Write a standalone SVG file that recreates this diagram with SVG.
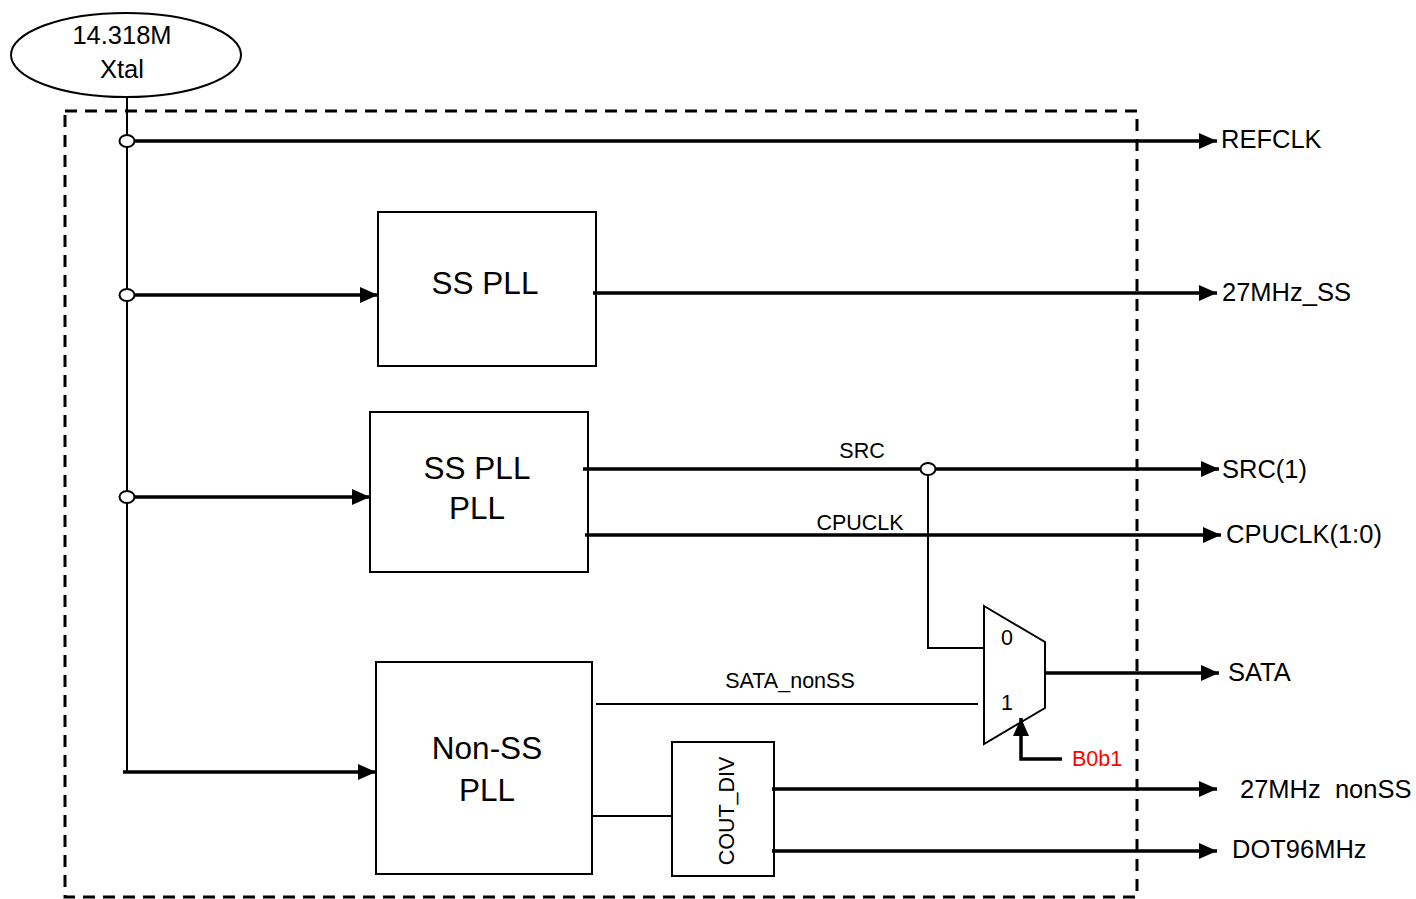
<svg xmlns="http://www.w3.org/2000/svg" width="1416" height="899" viewBox="0 0 1416 899">
<style>
text{font-family:"Liberation Sans",Arial,sans-serif;fill:#000}
.big{font-size:31.5px;text-anchor:middle}
.out{font-size:25.5px}
.sm{font-size:21.5px;text-anchor:middle}
.box{fill:#fff;stroke:#000;stroke-width:2}
.thick{stroke:#000;stroke-width:3.5;fill:none}
.thin{stroke:#000;stroke-width:2;fill:none}
.hop{fill:#fff;stroke:#000;stroke-width:2}
</style>
<defs>
<marker id="ah" markerUnits="userSpaceOnUse" markerWidth="18" markerHeight="16" refX="18" refY="8" orient="auto">
<path d="M0,0 L18,8 L0,16 Z" fill="#000"/>
</marker>
</defs>
<rect id="boundary" x="65" y="111" width="1072" height="786" fill="none" stroke="#000" stroke-width="3" stroke-dasharray="12,8"/>
<g id="xtal">
<ellipse cx="126" cy="55" rx="115" ry="42" class="box"/>
<text x="122" y="44" font-size="25.5" text-anchor="middle">14.318M</text>
<text x="122" y="78" font-size="25.5" text-anchor="middle">Xtal</text>
</g>
<g id="sspll1">
<rect x="378" y="212" width="218" height="154" class="box"/>
<text x="485" y="294" class="big">SS PLL</text>
</g>
<g id="sspll2">
<rect x="370" y="412" width="218" height="160" class="box"/>
<text x="477" y="479" class="big">SS PLL</text>
<text x="477" y="519" class="big">PLL</text>
</g>
<g id="nonsspll">
<rect x="376" y="662" width="216" height="212" class="box"/>
<text x="487" y="759" class="big">Non-SS</text>
<text x="487" y="801" class="big">PLL</text>
</g>
<g id="coutdiv">
<rect x="672" y="742" width="102" height="134" class="box"/>
<text transform="translate(734,811) rotate(-90)" class="sm">COUT_DIV</text>
</g>
<g id="mux">
<path d="M984,606 L1045,642 L1045,708 L984,744 Z" class="box"/>
<text x="1007" y="645" class="sm">0</text>
<text x="1007" y="710" class="sm">1</text>
</g>
<g id="connectors">
<line x1="127" y1="97" x2="127" y2="772" class="thin"/>
<line x1="133" y1="141" x2="1217" y2="141" class="thick" marker-end="url(#ah)"/>
<line x1="133" y1="295" x2="378" y2="295" class="thick" marker-end="url(#ah)"/>
<line x1="133" y1="497" x2="370" y2="497" class="thick" marker-end="url(#ah)"/>
<line x1="123" y1="772" x2="376" y2="772" class="thick" marker-end="url(#ah)"/>
<line x1="593" y1="293" x2="1217" y2="293" class="thick" marker-end="url(#ah)"/>
<line x1="583" y1="469" x2="1219" y2="469" class="thick" marker-end="url(#ah)"/>
<line x1="585" y1="535" x2="1221" y2="535" class="thick" marker-end="url(#ah)"/>
<polyline points="928,474 928,648 984,648" class="thin"/>
<line x1="596" y1="704" x2="978" y2="704" class="thin"/>
<line x1="1045" y1="673" x2="1219" y2="673" class="thick" marker-end="url(#ah)"/>
<polyline points="1062,759 1021,759 1021,718" class="thick" marker-end="url(#ah)"/>
<line x1="592" y1="816" x2="672" y2="816" class="thin"/>
<line x1="772" y1="789" x2="1217" y2="789" class="thick" marker-end="url(#ah)"/>
<line x1="772" y1="851" x2="1217" y2="851" class="thick" marker-end="url(#ah)"/>
<ellipse cx="127" cy="141" rx="7.5" ry="6" class="hop"/>
<ellipse cx="127" cy="295" rx="7.5" ry="6" class="hop"/>
<ellipse cx="127" cy="497" rx="7.5" ry="6" class="hop"/>
<ellipse cx="928" cy="469" rx="7.5" ry="6" class="hop"/>
</g>
<g id="labels">
<text x="862" y="458" class="sm">SRC</text>
<text x="860" y="530" class="sm">CPUCLK</text>
<text x="790" y="688" class="sm">SATA_nonSS</text>
<text x="1072" y="766" font-size="21.5" style="fill:#ff0000">B0b1</text>
<text x="1221" y="148" class="out">REFCLK</text>
<text x="1222" y="301" class="out">27MHz_SS</text>
<text x="1222" y="478" class="out">SRC(1)</text>
<text x="1226" y="543" class="out">CPUCLK(1:0)</text>
<text x="1228" y="681" class="out">SATA</text>
<text x="1240" y="798" class="out" xml:space="preserve">27MHz  nonSS</text>
<text x="1232" y="858" class="out">DOT96MHz</text>
</g>
</svg>
